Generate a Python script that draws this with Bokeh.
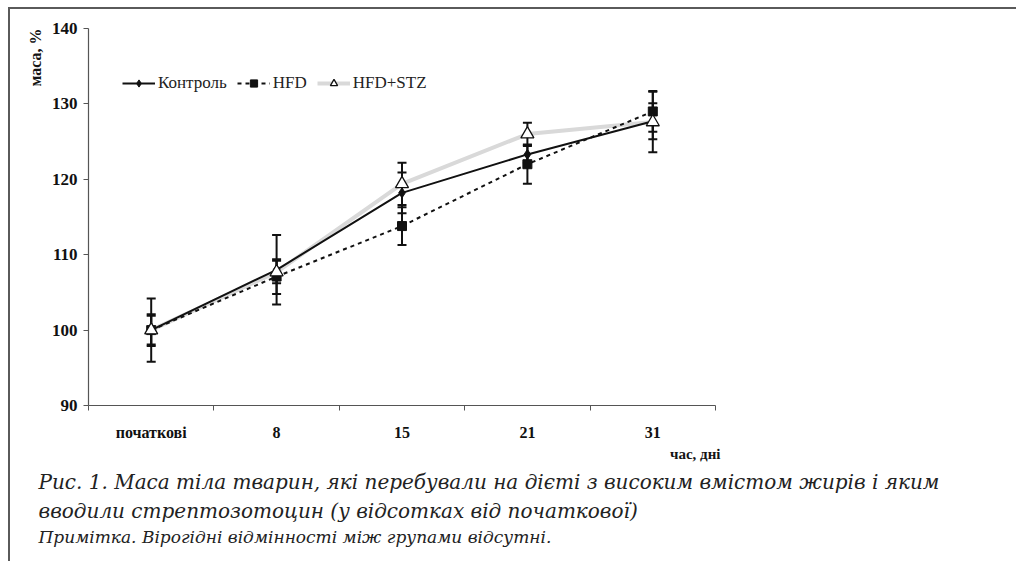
from bokeh.plotting import figure
from bokeh.models import (ColumnDataSource, Range1d, LinearAxis, Title,
                          FixedTicker, Whisker, TeeHead, Legend, LegendItem)
from bokeh.embed import file_html
from bokeh.resources import INLINE

categories = ["початкові", "8", "15", "21", "31"]
control = [100.0, 108.0, 118.2, 123.3, 127.7]
control_err = [1.9, 4.6, 2.7, 1.1, 2.4]
hfd = [100.0, 107.1, 113.8, 122.0, 129.0]
hfd_err = [2.1, 2.3, 2.5, 2.6, 2.7]
stz = [100.0, 107.7, 119.4, 126.0, 127.6]
stz_err = [4.2, 1.5, 2.8, 1.5, 4.0]
y_ticks = [90, 100, 110, 120, 130, 140]

series_names = ["Контроль", "HFD", "HFD+STZ"]
y_label = "маса, %"
x_label = "час, дні"
caption1 = "Рис. 1. Маса тіла тварин, які перебували на дієті з високим вмістом жирів і яким"
caption2 = "вводили стрептозотоцин (у відсотках від початкової)"
note = "Примітка. Вірогідні відмінності між групами відсутні."

AX = "#555555"
SERIF = "Liberation Serif"
CAP = "DejaVu Serif"
n = len(categories)
xs = [i + 0.5 for i in range(n)]

p = figure(width=1008, height=554, x_range=Range1d(0, n), y_range=Range1d(90, 140),
           output_backend="svg", toolbar_location=None, x_axis_location=None, y_axis_location=None,
           min_border_left=78, min_border_right=303, min_border_top=19, min_border_bottom=158)
p.styles = {"margin-left": "8px", "margin-top": "7px",
            "border-left": "2px solid #5a5a5a", "border-top": "2px solid #5a5a5a"}
p.xgrid.visible = False
p.ygrid.visible = False
p.outline_line_color = None
p.background_fill_color = "white"
p.border_fill_color = "white"

# y axis
yax = LinearAxis(ticker=FixedTicker(ticks=y_ticks), axis_line_color=AX, axis_line_width=1.2,
                 major_tick_line_color=AX, major_tick_out=5, major_tick_in=0,
                 minor_tick_line_color=None, major_label_standoff=6,
                 major_label_text_font=SERIF, major_label_text_font_style="bold",
                 major_label_text_font_size="17px", major_label_text_color="#111111")
p.add_layout(yax, "left")
p.add_layout(Title(text=y_label, align="right", text_font=SERIF, text_font_style="bold",
                   text_font_size="16px", text_color="#151515", standoff=10), "left")

# x axis: boundary ticks + category labels
xax_line = LinearAxis(ticker=FixedTicker(ticks=list(range(n + 1))),
                      axis_line_color=AX, axis_line_width=1.2, major_tick_line_color=AX,
                      major_tick_out=5, major_tick_in=0, minor_tick_line_color=None,
                      major_label_text_font_size="0px", major_label_standoff=0)
p.add_layout(xax_line, "below")
overrides = {x: c for x, c in zip(xs, categories)}
xax_lab = LinearAxis(ticker=FixedTicker(ticks=xs), major_label_overrides=overrides,
                     axis_line_color=None, major_tick_line_color=None, minor_tick_line_color=None,
                     major_label_standoff=7, major_label_text_font=SERIF,
                     major_label_text_font_style="bold", major_label_text_font_size="16px",
                     major_label_text_color="#111111")
p.add_layout(xax_lab, "below")

p.add_layout(Title(text=x_label, align="right", offset=-5, text_font=SERIF, text_font_style="bold",
                   text_font_size="15px", text_color="#151515", standoff=0), "below")
p.add_layout(Title(text=caption1, align="left", offset=-50, text_font=CAP,
                   text_font_style="italic", text_font_size="20px", text_color="#222222",
                   standoff=12), "below")
p.add_layout(Title(text=caption2, align="left", offset=-50, text_font=CAP,
                   text_font_style="italic", text_font_size="20px", text_color="#222222",
                   standoff=-5), "below")
p.add_layout(Title(text=note, align="left", offset=-50, text_font=CAP,
                   text_font_style="italic", text_font_size="17px", text_color="#222222",
                   standoff=9), "below")

src = ColumnDataSource(dict(x=xs, c=control, h=hfd, s=stz,
                            c_lo=[v - e for v, e in zip(control, control_err)],
                            c_hi=[v + e for v, e in zip(control, control_err)],
                            h_lo=[v - e for v, e in zip(hfd, hfd_err)],
                            h_hi=[v + e for v, e in zip(hfd, hfd_err)],
                            s_lo=[v - e for v, e in zip(stz, stz_err)],
                            s_hi=[v + e for v, e in zip(stz, stz_err)]))

for lo, hi in [("s_lo", "s_hi"), ("c_lo", "c_hi"), ("h_lo", "h_hi")]:
    w = Whisker(source=src, base="x", lower=lo, upper=hi, line_color="#111111", line_width=2,
                upper_head=TeeHead(size=9, line_color="#111111", line_width=2),
                lower_head=TeeHead(size=9, line_color="#111111", line_width=2))
    p.add_layout(w)

l_s = p.line("x", "s", source=src, line_color="#d9d9d9", line_width=4)
l_c = p.line("x", "c", source=src, line_color="#111111", line_width=2)
l_h = p.line("x", "h", source=src, line_color="#111111", line_width=2, line_dash="4 4")
m_c = p.scatter("x", "c", source=src, marker="diamond", size=10, fill_color="#111111", line_color="#111111")
m_h = p.scatter("x", "h", source=src, marker="square", size=9, fill_color="#111111", line_color="#111111")
m_s = p.scatter("x", "s", source=src, marker="triangle", size=13, fill_color="white", line_color="#111111",
                line_width=1.3)

legend = Legend(items=[LegendItem(label=series_names[0], renderers=[l_c, m_c]),
                       LegendItem(label=series_names[1], renderers=[l_h, m_h]),
                       LegendItem(label=series_names[2], renderers=[l_s, m_s])],
                orientation="horizontal", location=(34, 312), border_line_color=None,
                background_fill_alpha=0, padding=2, spacing=10, glyph_width=33, glyph_height=18,
                label_standoff=3, label_text_font=SERIF, label_text_font_size="17px",
                label_text_color="#222222", margin=0)
p.add_layout(legend)

open("out.html", "w").write(file_html(p, INLINE))
